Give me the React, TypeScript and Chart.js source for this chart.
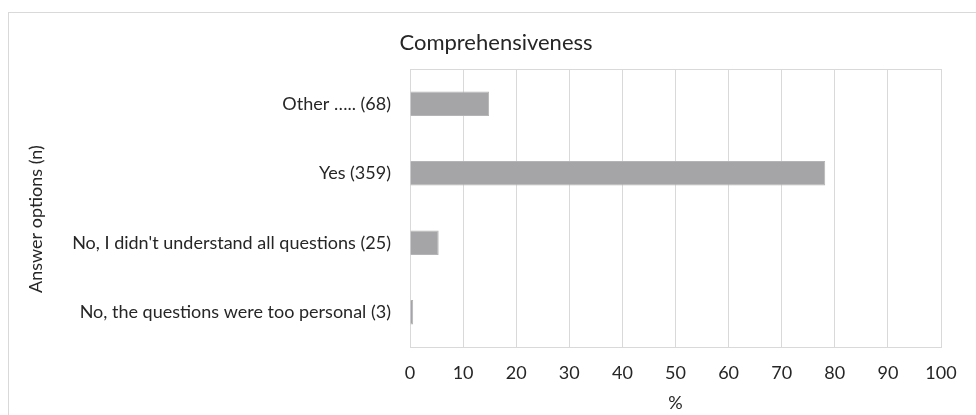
import React, { useEffect, useRef } from "react";
import { Chart, registerables } from "chart.js";

Chart.register(...registerables);

// Answer options and their share of respondents (%)
const categories = [
  "Other ….. (68)",
  "Yes (359)",
  "No, I didn't understand all questions (25)",
  "No, the questions were too personal (3)",
];
const percentages = [14.9, 78.2, 5.4, 0.6];
const xMin = 0;
const xMax = 100;
const xStep = 10;
const yAxisTitle = "Answer options (n)";

const FONT = "Lato, 'Open Sans', sans-serif";
const TEXT = "#262626";
const GRID = "#d9d9d9";

// Draws the top edge of the plot frame and the vertical axis title
const plotFrame = {
  id: "plotFrame",
  beforeDatasetsDraw(chart: any) {
    const { ctx, chartArea } = chart;
    ctx.save();
    ctx.strokeStyle = GRID;
    ctx.lineWidth = 1;
    ctx.beginPath();
    ctx.moveTo(chartArea.left, Math.round(chartArea.top) + 0.5);
    ctx.lineTo(chartArea.right, Math.round(chartArea.top) + 0.5);
    ctx.stroke();
    ctx.restore();
  },
  afterDraw(chart: any) {
    const { ctx, chartArea } = chart;
    ctx.save();
    ctx.translate(27, (chartArea.top + chartArea.bottom) / 2 + 11);
    ctx.rotate(-Math.PI / 2);
    ctx.fillStyle = TEXT;
    ctx.font = `18px ${FONT}`;
    ctx.textAlign = "center";
    ctx.textBaseline = "middle";
    ctx.fillText(yAxisTitle, 0, 0);
    ctx.restore();
  },
};

export default function App() {
  const ref = useRef<HTMLCanvasElement | null>(null);

  useEffect(() => {
    if (!ref.current) return;
    const chart = new Chart(ref.current, {
      type: "bar",
      data: {
        labels: categories,
        datasets: [
          {
            data: percentages,
            backgroundColor: "#a5a5a8",
            borderColor: "#b4b4b6",
            borderWidth: 1,
            barPercentage: 0.355,
            categoryPercentage: 1,
          },
        ],
      },
      options: {
        indexAxis: "y",
        responsive: false,
        animation: false,
        layout: { padding: { left: 42, right: 35, top: 0, bottom: 0 } },
        plugins: {
          legend: { display: false },
          tooltip: { enabled: false },
          title: {
            display: true,
            text: "Comprehensiveness",
            color: TEXT,
            font: { family: FONT, size: 22, weight: "normal" },
            padding: { top: 17, bottom: 12.6 },
          },
        },
        scales: {
          x: {
            min: xMin,
            max: xMax,
            ticks: {
              stepSize: xStep,
              color: TEXT,
              font: { family: FONT, size: 18 },
              padding: 15,
            },
            grid: { color: GRID, drawTicks: false },
            border: { color: GRID },
            title: {
              display: true,
              text: "%",
              color: TEXT,
              font: { family: FONT, size: 18 },
              padding: { top: 0, bottom: 1 },
            },
            afterFit(scale: any) {
              scale.height = 68;
            },
          },
          y: {
            ticks: {
              color: TEXT,
              font: { family: FONT, size: 18 },
              padding: 19,
            },
            grid: { display: false, drawTicks: false },
            border: { color: GRID },
            afterFit(scale: any) {
              scale.width = 359;
            },
          },
        },
      },
      plugins: [plotFrame],
    });
    return () => chart.destroy();
  }, []);

  return (
    <div
      style={{
        position: "fixed",
        left: 8,
        top: 12,
        width: 968,
        height: 403,
        borderTop: `1px solid ${GRID}`,
        borderLeft: `1px solid ${GRID}`,
        background: "#fff",
        boxSizing: "border-box",
      }}
    >
      <canvas ref={ref} width={967} height={402} style={{ display: "block" }} />
    </div>
  );
}
